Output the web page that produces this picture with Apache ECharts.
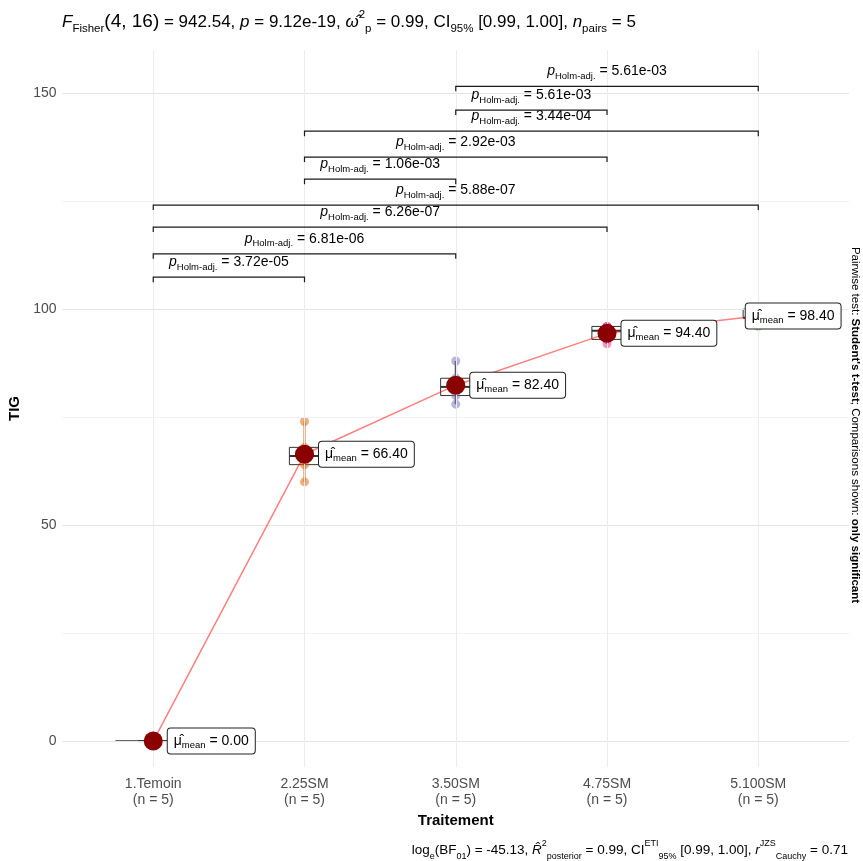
<!DOCTYPE html>
<html>
<head>
<meta charset="utf-8">
<script src="https://cdn.jsdelivr.net/npm/echarts@6/dist/echarts.min.js"></script>
<style>
  html, body { margin: 0; padding: 0; background: #ffffff; }
  #chart { width: 863px; height: 861px; }
</style>
</head>
<body>
<div id="chart"></div>
<script>
// ---- data -------------------------------------------------------------
const categories = ['1.Temoin', '2.25SM', '3.50SM', '4.75SM', '5.100SM'];
const groupN = [5, 5, 5, 5, 5];

// TIG per subject, one array per treatment
const tigTemoin = [0, 0, 0, 0, 0];
const tig25SM = [60, 64, 66, 68, 74];
const tig50SM = [78, 80, 82, 84, 88];
const tig75SM = [92, 93, 95, 96, 96];
const tig100SM = [96, 98, 98, 100, 100];

// group means shown in the labels
const means = [0.00, 66.40, 82.40, 94.40, 98.40];

// significant pairwise comparisons (Holm-adjusted p values)
const pairFrom = [0, 0, 0, 0, 1, 1, 1, 2, 2];
const pairTo = [1, 2, 3, 4, 2, 3, 4, 3, 4];
const pairY = [107.4, 112.8, 119.0, 124.1, 130.1, 135.2, 141.2, 146.1, 151.6];
const pairP = ['3.72e-05', '6.81e-06', '6.26e-07', '5.88e-07', '1.06e-03',
               '2.92e-03', '3.44e-04', '5.61e-03', '5.61e-03'];

// axis ticks
const yTicks = [0, 50, 100, 150];
const yMinor = [25, 75, 125];
const xTicks = [0, 1, 2, 3, 4];

// ---- helpers ------------------------------------------------------------
const FONT = 'Liberation Sans';
const dark2 = ['#1B9E77', '#D95F02', '#7570B3', '#E7298A', '#66A61E'];
const groups = [tigTemoin, tig25SM, tig50SM, tig75SM, tig100SM];

function quantile(arr, p) {
  const s = arr.slice().sort((a, b) => a - b);
  const h = (s.length - 1) * p;
  const lo = Math.floor(h), hi = Math.ceil(h);
  return s[lo] + (h - lo) * (s[hi] - s[lo]);
}

const boxData = groups.map((g, i) => [
  i, Math.min(...g), quantile(g, 0.25), quantile(g, 0.5), quantile(g, 0.75), Math.max(...g)
]);
const spanData = groups.map((g, i) => [i, Math.min(...g), Math.max(...g)]);
const pointData = [];
groups.forEach((g, i) => g.forEach(v => pointData.push({
  value: [i, v], itemStyle: { color: dark2[i] }
})));
const bracketData = pairFrom.map((f, k) => [f, pairTo[k], pairY[k]]);

const titleRich = {
  n: { fontFamily: FONT, fontSize: 17, color: '#000', lineHeight: 26 },
  big: { fontFamily: FONT, fontSize: 19, color: '#000', lineHeight: 26 },
  it: { fontFamily: FONT, fontSize: 17, fontStyle: 'italic', color: '#000', lineHeight: 26 },
  sub: { fontFamily: FONT, fontSize: 11.5, color: '#000', lineHeight: 14, verticalAlign: 'bottom' },
  sup: { fontFamily: FONT, fontSize: 11.5, color: '#000', lineHeight: 14, verticalAlign: 'top' }
};
const captionRich = {
  n: { fontFamily: FONT, fontSize: 13.5, color: '#000', lineHeight: 22 },
  it: { fontFamily: FONT, fontSize: 13.5, fontStyle: 'italic', color: '#000', lineHeight: 22 },
  sub: { fontFamily: FONT, fontSize: 9, color: '#000', lineHeight: 11, verticalAlign: 'bottom' },
  sup: { fontFamily: FONT, fontSize: 9, color: '#000', lineHeight: 11, verticalAlign: 'top' }
};
const sideRich = {
  n: { fontFamily: FONT, fontSize: 11.5, color: '#000' },
  b: { fontFamily: FONT, fontSize: 11.5, fontWeight: 'bold', color: '#000' }
};
const bracketRich = {
  p: { fontFamily: FONT, fontSize: 14, fontStyle: 'italic', color: '#1a1a1a', lineHeight: 20 },
  s: { fontFamily: FONT, fontSize: 9.5, color: '#1a1a1a', lineHeight: 12, verticalAlign: 'bottom' },
  t: { fontFamily: FONT, fontSize: 14, color: '#1a1a1a', lineHeight: 20 }
};
const meanRich = {
  i: { fontFamily: FONT, fontSize: 14, color: '#000', lineHeight: 19 },
  s: { fontFamily: FONT, fontSize: 9.5, color: '#000', lineHeight: 11, verticalAlign: 'bottom' },
  t: { fontFamily: FONT, fontSize: 14, color: '#000', lineHeight: 19 }
};

// ---- chart ----------------------------------------------------------------
const chart = echarts.init(document.getElementById('chart'), null, { renderer: 'canvas' });

const gridLines = []
  .concat(yMinor.map(v => ({ yAxis: v, lineStyle: { color: '#f2f2f2', width: 1, type: 'solid' } })))
  .concat(yTicks.map(v => ({ yAxis: v, lineStyle: { color: '#e4e4e4', width: 1, type: 'solid' } })))
  .concat(xTicks.map(v => ({ xAxis: v, lineStyle: { color: '#ececec', width: 1, type: 'solid' } })));

const option = {
  animation: false,
  backgroundColor: '#ffffff',
  grid: { left: 62.5, right: 14, top: 50, bottom: 94, containLabel: false, outerBoundsMode: 'none' },
  xAxis: {
    type: 'value', min: -0.6, max: 4.6,
    axisLine: { show: false },
    splitLine: { show: false },
    axisTick: { show: true, customValues: xTicks, length: 4, lineStyle: { color: '#4d4d4d' } },
    axisLabel: {
      customValues: xTicks,
      formatter: v => categories[Math.round(v)] + '\n(n = ' + groupN[Math.round(v)] + ')',
      color: '#4d4d4d', fontFamily: FONT, fontSize: 14, lineHeight: 16, margin: 9
    },
    name: 'Traitement', nameLocation: 'middle', nameGap: 45,
    nameTextStyle: { fontFamily: FONT, fontWeight: 'bold', fontSize: 15, color: '#000' }
  },
  yAxis: {
    type: 'value', min: -6, max: 160,
    axisLine: { show: false },
    splitLine: { show: false },
    axisTick: { show: true, customValues: yTicks, length: 4, lineStyle: { color: '#4d4d4d' } },
    axisLabel: { customValues: yTicks, color: '#4d4d4d', fontFamily: FONT, fontSize: 14, margin: 6 },
    name: 'TIG', nameLocation: 'middle', nameGap: 38,
    nameTextStyle: { fontFamily: FONT, fontWeight: 'bold', fontSize: 15, color: '#000' }
  },
  graphic: [
    {
      type: 'text', x: 62, y: 22,
      style: {
        text: '{it|F}{sub|Fisher}{big|(4, 16)}{n| = 942.54, }{it|p}{n| = 9.12e-19, }{it|ω̂}{sup|2}{sub|p}' +
              '{n| = 0.99, CI}{sub|95%}{n| [0.99, 1.00], }{it|n}{sub|pairs}{n| = 5}',
        rich: titleRich, align: 'left', verticalAlign: 'middle'
      }
    },
    {
      type: 'text', x: 848, y: 850,
      style: {
        text: '{n|log}{sub|e}{n|(BF}{sub|01}{n|) = -45.13, }{it|R̂}{sup|2}{sub|posterior}' +
              '{n| = 0.99, CI}{sup|ETI}{sub|95%}{n| [0.99, 1.00], }{it|r}{sup|JZS}{sub|Cauchy}{n| = 0.71}',
        rich: captionRich, align: 'right', verticalAlign: 'middle'
      }
    },
    {
      type: 'text', x: 855, y: 425, rotation: -Math.PI / 2,
      style: {
        text: "{n|Pairwise test: }{b|Student's t-test}{n|; Comparisons shown: }{b|only significant}",
        rich: sideRich, align: 'center', verticalAlign: 'middle'
      }
    }
  ],
  series: [
    {
      // panel grid lines
      type: 'line', data: [], z: 0, silent: true,
      markLine: { silent: true, symbol: ['none', 'none'], label: { show: false }, data: gridLines, animation: false }
    },
    {
      // violin outlines (collapsed for these small groups)
      type: 'custom', z: 2, silent: true, data: spanData,
      renderItem: (params, api) => {
        const i = api.value(0), lo = api.value(1), hi = api.value(2);
        if (lo === hi) {
          const half = api.size([0.5, 0])[0] / 2;
          const c = api.coord([i, lo]);
          return { type: 'line', shape: { x1: c[0] - half, y1: c[1], x2: c[0] + half, y2: c[1] },
                   style: { stroke: '#333333', lineWidth: 1.5 } };
        }
        const a = api.coord([i, lo]), b = api.coord([i, hi]);
        return { type: 'line', shape: { x1: a[0], y1: a[1], x2: b[0], y2: b[1] },
                 style: { stroke: echarts.color.modifyAlpha(dark2[i], 0.45), lineWidth: 3 } };
      }
    },
    {
      // box plots
      type: 'custom', z: 3, silent: true, data: boxData,
      renderItem: (params, api) => {
        const i = api.value(0);
        const mn = api.coord([i, api.value(1)]);
        const q1 = api.coord([i, api.value(2)]);
        const md = api.coord([i, api.value(3)]);
        const q3 = api.coord([i, api.value(4)]);
        const mx = api.coord([i, api.value(5)]);
        const half = api.size([0.2, 0])[0] / 2;
        const st = { stroke: '#333333', lineWidth: 1, fill: null };
        return {
          type: 'group', children: [
            { type: 'line', shape: { x1: mn[0], y1: mn[1], x2: q1[0], y2: q1[1] }, style: st },
            { type: 'line', shape: { x1: q3[0], y1: q3[1], x2: mx[0], y2: mx[1] }, style: st },
            { type: 'rect', shape: { x: q3[0] - half, y: q3[1], width: half * 2, height: Math.max(q1[1] - q3[1], 0) },
              style: { stroke: '#333333', lineWidth: 1, fill: 'rgba(255,255,255,0.5)' } },
            { type: 'line', shape: { x1: md[0] - half, y1: md[1], x2: md[0] + half, y2: md[1] },
              style: { stroke: '#333333', lineWidth: 2 } }
          ]
        };
      }
    },
    {
      // individual observations
      type: 'scatter', z: 4, silent: true, symbol: 'circle', symbolSize: 9,
      itemStyle: { opacity: 0.5 }, data: pointData
    },
    {
      // group means with their labels
      type: 'line', z: 6, silent: true,
      data: means.map((m, i) => i === 4
        ? { value: [i, m], label: { offset: [-27, 0] } }
        : { value: [i, m] }),
      lineStyle: { color: 'rgba(255,0,0,0.5)', width: 1.5 },
      symbol: 'circle', symbolSize: 19, showSymbol: true,
      itemStyle: { color: '#8B0000', opacity: 1 },
      label: {
        show: true, position: 'right', distance: 5,
        formatter: p => '{i|μ̂}{s|mean}{t| = ' + means[p.dataIndex].toFixed(2) + '}',
        rich: meanRich,
        backgroundColor: '#ffffff', borderColor: '#222222', borderWidth: 1, borderRadius: 3,
        padding: [3, 6, 3, 6]
      }
    },
    {
      // pairwise comparison brackets
      type: 'custom', z: 7, silent: true, data: bracketData,
      renderItem: (params, api) => {
        const a = api.coord([api.value(0), api.value(2)]);
        const b = api.coord([api.value(1), api.value(2)]);
        const tip = 5;
        return {
          type: 'group', children: [
            { type: 'polyline',
              shape: { points: [[a[0], a[1] + tip], [a[0], a[1]], [b[0], b[1]], [b[0], b[1] + tip]] },
              style: { stroke: '#1a1a1a', lineWidth: 1.2, fill: null } },
            { type: 'text', x: (a[0] + b[0]) / 2, y: a[1] - 15,
              style: { text: '{p|p}{s|Holm-adj.}{t| = ' + pairP[params.dataIndex] + '}',
                       rich: bracketRich, align: 'center', verticalAlign: 'middle' } }
          ]
        };
      }
    }
  ]
};

chart.setOption(option);
</script>
</body>
</html>
